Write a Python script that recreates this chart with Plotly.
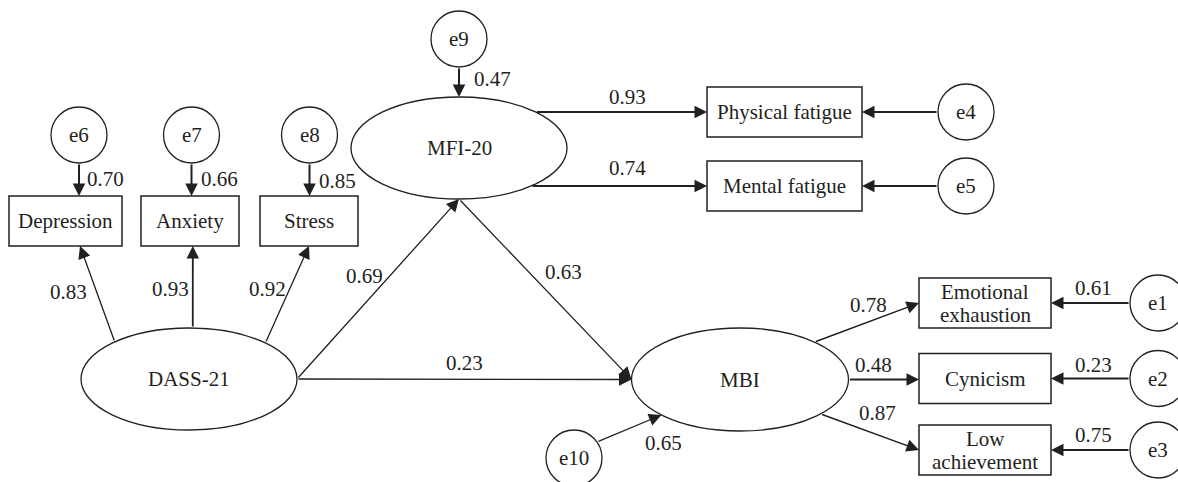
import math
import plotly.graph_objects as go

# ---------------- data ----------------
latent_labels = ["DASS-21", "MFI-20", "MBI"]
dass_indicators = ["Depression", "Anxiety", "Stress"]
dass_loadings = [0.83, 0.93, 0.92]
dass_errors = ["e6", "e7", "e8"]
dass_error_values = [0.70, 0.66, 0.85]
mfi_indicators = ["Physical fatigue", "Mental fatigue"]
mfi_loadings = [0.93, 0.74]
mfi_errors = ["e4", "e5"]
mbi_indicators = ["Emotional<br>exhaustion", "Cynicism", "Low<br>achievement"]
mbi_loadings = [0.78, 0.48, 0.87]
mbi_errors = ["e1", "e2", "e3"]
mbi_error_values = [0.61, 0.23, 0.75]
structural_paths = [("DASS-21", "MFI-20"), ("MFI-20", "MBI"), ("DASS-21", "MBI")]
structural_values = [0.69, 0.63, 0.23]
disturbances = ["e9", "e10"]
disturbance_values = [0.47, 0.65]

# ---------------- layout geometry (pixels) ----------------
W, H = 1178, 482
INK = "#231f20"
FONT = "Liberation Serif, Times New Roman, Times, DejaVu Serif, serif"
FS = 21
LINE_GAP = 23

GEOM = {
    "DASS-21": ("ellipse", 189, 379, 108, 51),
    "MFI-20": ("ellipse", 459, 148, 108, 51),
    "MBI": ("ellipse", 740, 379.5, 108.5, 51.5),
    "Depression": ("rect", 65.5, 221, 56.5, 25),
    "Anxiety": ("rect", 190, 221, 49, 25),
    "Stress": ("rect", 309, 221, 49, 25),
    "Physical fatigue": ("rect", 784.5, 112, 77.5, 25),
    "Mental fatigue": ("rect", 784.5, 186, 77.5, 25),
    "Emotional<br>exhaustion": ("rect", 985, 303, 66, 25),
    "Cynicism": ("rect", 985, 378.5, 66, 25),
    "Low<br>achievement": ("rect", 985, 450, 66, 25),
    "e6": ("ellipse", 79, 135, 28, 28),
    "e7": ("ellipse", 191.5, 135, 28, 28),
    "e8": ("ellipse", 309.5, 135, 28, 28),
    "e9": ("ellipse", 459, 39, 28, 28),
    "e4": ("ellipse", 966, 112, 28, 28),
    "e5": ("ellipse", 966, 186, 28, 28),
    "e1": ("ellipse", 1158, 303, 28, 28),
    "e2": ("ellipse", 1158, 378.5, 28, 28),
    "e3": ("ellipse", 1158, 450, 28, 28),
    "e10": ("ellipse", 574, 458, 28, 28),
}


def anchor(node, spec):
    kind, cx, cy, rx, ry = GEOM[node]
    k = spec[0]
    if k == "ang":
        t = math.radians(spec[1])
        return cx + rx * math.cos(t), cy - ry * math.sin(t)
    if k == "ey":  # right side of ellipse at a given y
        y = spec[1]
        return cx + rx * math.sqrt(max(0.0, 1 - ((y - cy) / ry) ** 2)), y
    if k == "top":
        return spec[1], cy - ry
    if k == "bottom":
        return spec[1], cy + ry
    if k == "left":
        return cx - rx, spec[1]
    if k == "right":
        return cx + rx, spec[1]


# edges: src, src anchor, dst, dst anchor, value, label pos, label xanchor, width
edges = [
    (dass_errors[0], ("ang", -90), dass_indicators[0], ("top", 79), dass_error_values[0], (85, 179), "left", 2.0),
    (dass_errors[1], ("ang", -90), dass_indicators[1], ("top", 191.5), dass_error_values[1], (199, 179), "left", 2.0),
    (dass_errors[2], ("ang", -90), dass_indicators[2], ("top", 309.5), dass_error_values[2], (317, 181), "left", 2.0),
    ("DASS-21", ("ang", 133.4), dass_indicators[0], ("bottom", 80), dass_loadings[0], (68, 292), "center", 1.3),
    ("DASS-21", ("ang", 88), dass_indicators[1], ("bottom", 192.8), dass_loadings[1], (170, 289), "center", 1.8),
    ("DASS-21", ("ang", 45), dass_indicators[2], ("bottom", 309), dass_loadings[2], (267, 289), "center", 1.3),
    (structural_paths[0][0], ("ang", 0), structural_paths[0][1], ("ang", -90), structural_values[0], (364, 276), "center", 1.3),
    (structural_paths[1][0], ("ang", -90), structural_paths[1][1], ("ang", 180), structural_values[1], (563, 272), "center", 1.3),
    (structural_paths[2][0], ("ang", 0), structural_paths[2][1], ("ang", 180), structural_values[2], (464, 363), "center", 1.3),
    (disturbances[0], ("ang", -90), "MFI-20", ("ang", 90), disturbance_values[0], (472, 79), "left", 2.0),
    ("MFI-20", ("ey", 112), mfi_indicators[0], ("left", 112), mfi_loadings[0], (627, 97), "center", 2.0),
    ("MFI-20", ("ey", 186), mfi_indicators[1], ("left", 186), mfi_loadings[1], (627, 168), "center", 2.0),
    (mfi_errors[0], ("ang", 180), mfi_indicators[0], ("right", 112), None, None, None, 2.0),
    (mfi_errors[1], ("ang", 180), mfi_indicators[1], ("right", 186), None, None, None, 2.0),
    ("MBI", ("ang", 46.7), mbi_indicators[0], ("left", 303), mbi_loadings[0], (868, 305), "center", 1.5),
    ("MBI", ("ang", 0), mbi_indicators[1], ("left", 379.5), mbi_loadings[1], (873, 365), "center", 2.0),
    ("MBI", ("ang", -42), mbi_indicators[2], ("left", 450), mbi_loadings[2], (877, 413), "center", 1.5),
    (mbi_errors[0], ("ang", 180), mbi_indicators[0], ("right", 303), mbi_error_values[0], (1093, 288), "center", 2.0),
    (mbi_errors[1], ("ang", 180), mbi_indicators[1], ("right", 378.5), mbi_error_values[1], (1093, 365), "center", 2.0),
    (mbi_errors[2], ("ang", 180), mbi_indicators[2], ("right", 450), mbi_error_values[2], (1093, 435), "center", 2.0),
    (disturbances[1], ("ang", 35), "MBI", ("ang", 223.6), disturbance_values[1], (663, 443), "center", 1.3),
]

fig = go.Figure()
fig.add_trace(go.Scatter(x=[0, W], y=[0, H], mode="markers", marker=dict(opacity=0), hoverinfo="skip", showlegend=False))

shapes = []
annotations = []

# nodes
for name, (kind, cx, cy, rx, ry) in GEOM.items():
    stype = "circle" if kind == "ellipse" else "rect"
    lw = 1.3 if kind == "ellipse" else 1.5
    shapes.append(dict(type=stype, xref="x", yref="y", x0=cx - rx, x1=cx + rx, y0=cy - ry, y1=cy + ry,
                       line=dict(color=INK, width=lw), fillcolor="white", layer="above"))
    lines = name.split("<br>")
    n = len(lines)
    for i, ln in enumerate(lines):
        ty = cy + (i - (n - 1) / 2) * LINE_GAP
        annotations.append(dict(x=cx, y=ty, xref="x", yref="y", text=ln, showarrow=False,
                                xanchor="center", yanchor="middle",
                                font=dict(family=FONT, size=FS, color=INK)))

# edges
for src, sa, dst, da, val, lpos, lanch, lw in edges:
    x0, y0 = anchor(src, sa)
    x1, y1 = anchor(dst, da)
    asz = 2.5 / lw
    annotations.append(dict(x=x1, y=y1, ax=x0, ay=y0, xref="x", yref="y", axref="x", ayref="y",
                            text="", showarrow=True, arrowhead=2, arrowsize=asz,
                            arrowwidth=lw, arrowcolor=INK, standoff=0, startstandoff=0))
    if val is not None:
        annotations.append(dict(x=lpos[0], y=lpos[1], xref="x", yref="y", text=f"{val:.2f}", showarrow=False,
                                xanchor=lanch, yanchor="middle",
                                font=dict(family=FONT, size=FS, color=INK)))

fig.update_layout(
    width=W, height=H, margin=dict(l=0, r=0, t=0, b=0),
    paper_bgcolor="white", plot_bgcolor="white",
    font=dict(family=FONT, size=FS, color=INK),
    xaxis=dict(range=[0, W], visible=False, fixedrange=True),
    yaxis=dict(range=[H, 0], visible=False, fixedrange=True),
    shapes=shapes, annotations=annotations, showlegend=False,
)
fig.write_html("out.html", config={"displayModeBar": False, "staticPlot": True},
               post_script="document.body.style.margin='0';document.body.style.overflow='hidden';")
